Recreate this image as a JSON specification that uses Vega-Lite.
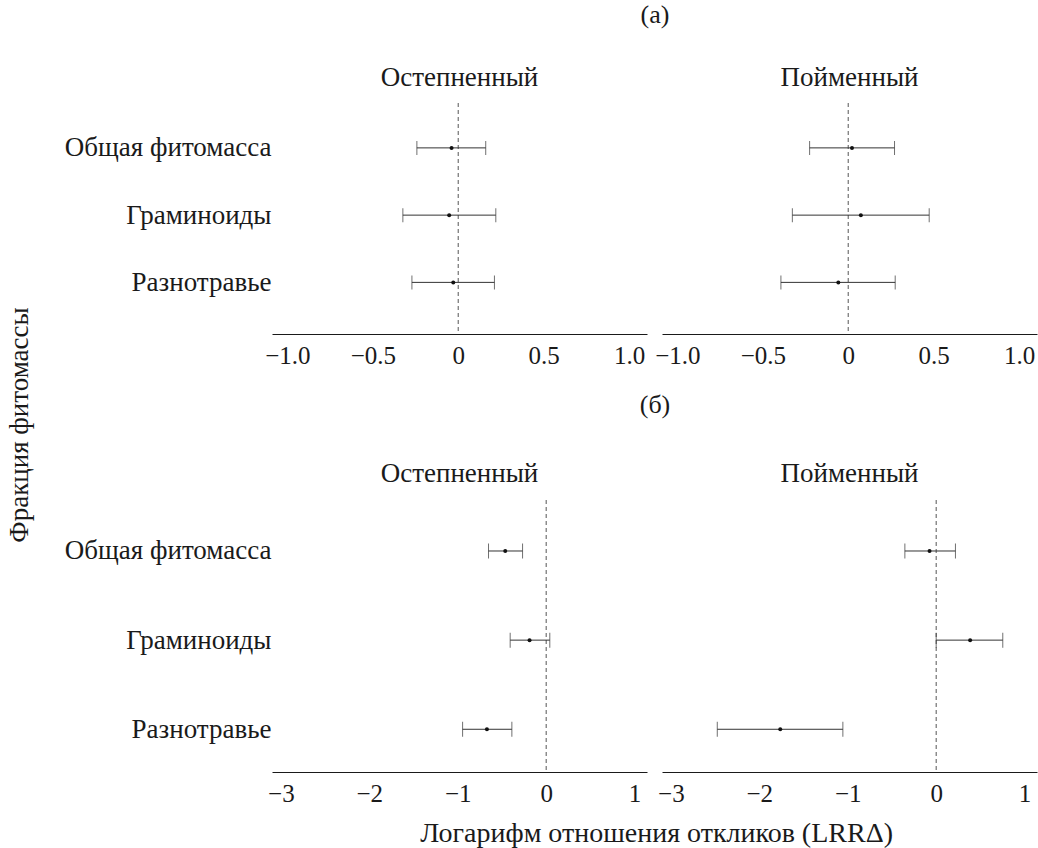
{
  "$schema": "https://vega.github.io/schema/vega-lite/v6.json",
  "padding": {"left": 6, "top": 2, "right": 1, "bottom": 4},
  "background": "white",
  "config": {
    "font": "Liberation Serif",
    "view": {"stroke": null},
    "axis": {"grid": false, "ticks": false, "labelFontSize": 25, "labelColor": "#1a1a1a", "domainColor": "#1a1a1a", "labelFont": "Liberation Serif", "labelLimit": 400},
    "header": {"labelFontSize": 27, "labelFont": "Liberation Serif", "labelColor": "#1a1a1a", "titleFontSize": 26, "titleFont": "Liberation Serif", "titleFontWeight": "normal", "titleColor": "#1a1a1a"},
    "title": {"fontSize": 27, "fontWeight": "normal", "font": "Liberation Serif", "color": "#1a1a1a"},
    "concat": {"spacing": 24}
  },
  "title": {"text": "Фракция фитомассы", "orient": "left", "anchor": "middle", "fontSize": 27, "offset": 30},
  "datasets": {
    "a": [
      {"habitat": "Остепненный", "fraction": "Общая фитомасса", "mean": -0.039, "low": -0.242, "high": 0.161},
      {"habitat": "Остепненный", "fraction": "Граминоиды", "mean": -0.053, "low": -0.324, "high": 0.22},
      {"habitat": "Остепненный", "fraction": "Разнотравье", "mean": -0.029, "low": -0.271, "high": 0.212},
      {"habitat": "Пойменный", "fraction": "Общая фитомасса", "mean": 0.022, "low": -0.226, "high": 0.271},
      {"habitat": "Пойменный", "fraction": "Граминоиды", "mean": 0.074, "low": -0.327, "high": 0.474},
      {"habitat": "Пойменный", "fraction": "Разнотравье", "mean": -0.058, "low": -0.394, "high": 0.275}
    ],
    "b": [
      {"habitat": "Остепненный", "fraction": "Общая фитомасса", "mean": -0.463, "low": -0.652, "high": -0.267},
      {"habitat": "Остепненный", "fraction": "Граминоиды", "mean": -0.188, "low": -0.407, "high": 0.041},
      {"habitat": "Остепненный", "fraction": "Разнотравье", "mean": -0.67, "low": -0.945, "high": -0.388},
      {"habitat": "Пойменный", "fraction": "Общая фитомасса", "mean": -0.075, "low": -0.354, "high": 0.218},
      {"habitat": "Пойменный", "fraction": "Граминоиды", "mean": 0.384, "low": 0.0, "high": 0.753},
      {"habitat": "Пойменный", "fraction": "Разнотравье", "mean": -1.763, "low": -2.475, "high": -1.055}
    ]
  },
  "vconcat": [
    {
      "data": {"name": "a"},
      "facet": {
        "column": {"field": "habitat", "type": "nominal", "sort": ["Остепненный", "Пойменный"], "header": {"title": "(a)", "titlePadding": 26, "labelPadding": 10}}
      },
      "spacing": 15,
      "spec": {
        "width": 375,
        "height": 230,
        "encoding": {
          "y": {"field": "fraction", "type": "ordinal", "sort": ["Общая фитомасса", "Граминоиды", "Разнотравье"], "scale": {"type": "point", "padding": 0.71, "align": 0.47}, "axis": {"title": null, "domain": false, "labelPadding": 1, "labelFontSize": 27}}
        },
        "layer": [
          {
            "transform": [{"filter": "datum.fraction == 'Общая фитомасса'"}],
            "mark": {"type": "rule", "strokeDash": [4, 3], "color": "#555", "strokeWidth": 1},
            "encoding": {"x": {"datum": 0}, "y": null}
          },
          {
            "mark": {"type": "rule", "color": "#333", "strokeWidth": 1},
            "encoding": {
              "x": {"field": "low", "type": "quantitative", "scale": {"domain": [-1.09, 1.105], "nice": false, "zero": false}, "axis": {"title": null, "values": [-1, -0.5, 0, 0.5, 1], "labelExpr": "datum.value == 0 ? '0' : format(datum.value, '.1f')", "labelPadding": 9}},
              "x2": {"field": "high"}
            }
          },
          {
            "mark": {"type": "tick", "color": "#333", "size": 14, "thickness": 1, "orient": "vertical"},
            "encoding": {"x": {"field": "low", "type": "quantitative"}}
          },
          {
            "mark": {"type": "tick", "color": "#333", "size": 14, "thickness": 1, "orient": "vertical"},
            "encoding": {"x": {"field": "high", "type": "quantitative"}}
          },
          {
            "mark": {"type": "circle", "color": "#111", "size": 16, "opacity": 1},
            "encoding": {"x": {"field": "mean", "type": "quantitative"}}
          }
        ]
      }
    },
    {
      "title": {"text": "Логарифм отношения откликов (LRRΔ)", "orient": "bottom", "anchor": "middle", "offset": 14, "fontSize": 28, "dx": 106},
      "vconcat": [
        {
          "data": {"name": "b"},
          "facet": {
            "column": {"field": "habitat", "type": "nominal", "sort": ["Остепненный", "Пойменный"], "header": {"title": "(б)", "titlePadding": 32, "labelPadding": 11}}
          },
          "spacing": 15,
          "spec": {
            "width": 375,
            "height": 271,
            "encoding": {
              "y": {"field": "fraction", "type": "ordinal", "sort": ["Общая фитомасса", "Граминоиды", "Разнотравье"], "scale": {"type": "point", "padding": 0.52, "align": 0.55}, "axis": {"title": null, "domain": false, "labelPadding": 1, "labelFontSize": 27}}
            },
            "layer": [
              {
                "transform": [{"filter": "datum.fraction == 'Общая фитомасса'"}],
                "mark": {"type": "rule", "strokeDash": [4, 3], "color": "#555", "strokeWidth": 1},
                "encoding": {"x": {"datum": 0}, "y": null}
              },
              {
                "mark": {"type": "rule", "color": "#333", "strokeWidth": 1},
                "encoding": {
                  "x": {"field": "low", "type": "quantitative", "scale": {"domain": [-3.1, 1.14], "nice": false, "zero": false}, "axis": {"title": null, "values": [-3, -2, -1, 0, 1], "format": "d", "labelPadding": 9}},
                  "x2": {"field": "high"}
                }
              },
              {
                "mark": {"type": "tick", "color": "#333", "size": 15, "thickness": 1, "orient": "vertical"},
                "encoding": {"x": {"field": "low", "type": "quantitative"}}
              },
              {
                "mark": {"type": "tick", "color": "#333", "size": 15, "thickness": 1, "orient": "vertical"},
                "encoding": {"x": {"field": "high", "type": "quantitative"}}
              },
              {
                "mark": {"type": "circle", "color": "#111", "size": 16, "opacity": 1},
                "encoding": {"x": {"field": "mean", "type": "quantitative"}}
              }
            ]
          }
        }
      ]
    }
  ]
}
